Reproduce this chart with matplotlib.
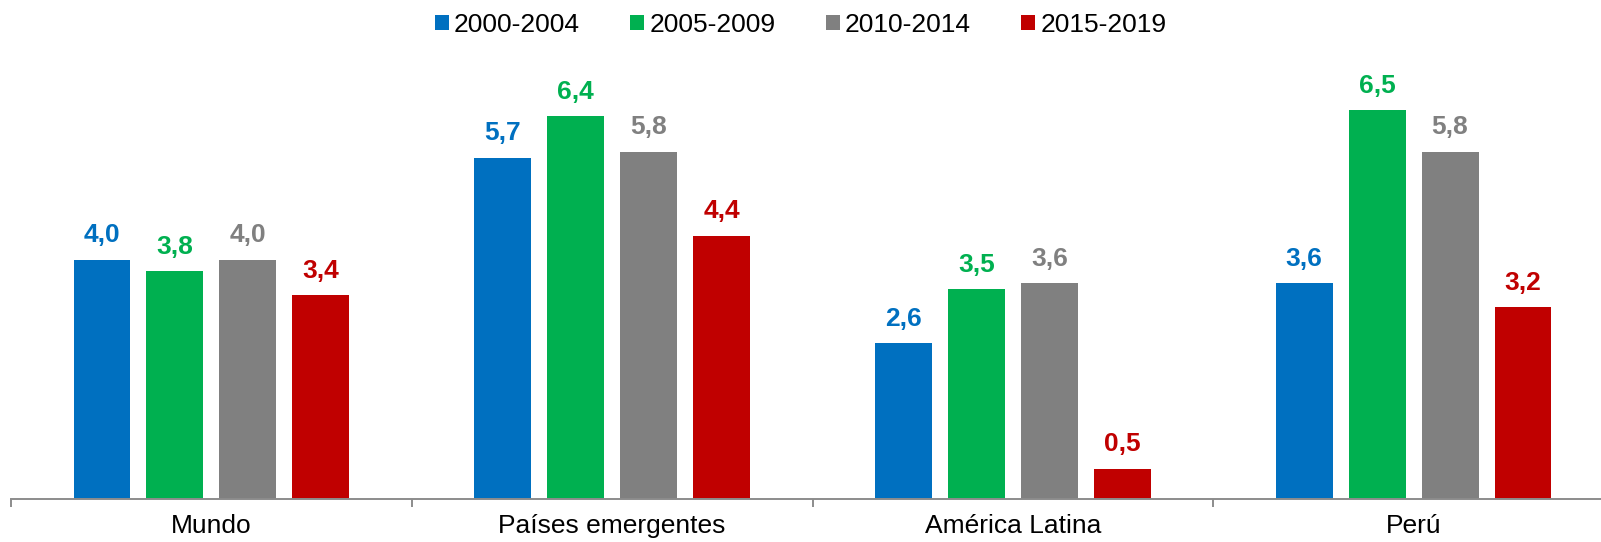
import matplotlib

matplotlib.use("Agg")
import matplotlib.pyplot as plt
import numpy as np
from matplotlib.patches import Patch

plt.rcParams["font.family"] = ["Liberation Sans", "DejaVu Sans"]

REGIONS = ["Mundo", "Países emergentes", "América Latina", "Perú"]
PERIODS = ["2000-2004", "2005-2009", "2010-2014", "2015-2019"]
COLORS = ["#0070C0", "#00B050", "#808080", "#C00000"]

# average growth per period, one list per period (order follows REGIONS)
g_2000_2004 = [4.0, 5.7, 2.6, 3.6]
g_2005_2009 = [3.8, 6.4, 3.5, 6.5]
g_2010_2014 = [4.0, 5.8, 3.6, 5.8]
g_2015_2019 = [3.4, 4.4, 0.5, 3.2]
SERIES = [g_2000_2004, g_2005_2009, g_2010_2014, g_2015_2019]

W, H = 1601, 542
fig = plt.figure(figsize=(W / 100, H / 100), dpi=100)
ax = fig.add_axes([11 / W, 43.3 / H, 1603 / W, 418.6 / H])

x = np.arange(len(REGIONS))
bw, step = 0.142, 0.182
for k, (vals, col) in enumerate(zip(SERIES, COLORS)):
    pos = x + (k - 1.5) * step
    ax.bar(pos, vals, bw, color=col, zorder=2)
    for px, v in zip(pos, vals):
        ax.annotate(f"{v:.1f}".replace(".", ","), (px, v), xytext=(0, 12.5),
                    textcoords="offset points", ha="center", va="baseline",
                    fontsize=19, fontweight="bold", color=col, annotation_clip=False)

ax.set_xlim(-0.5, len(REGIONS) - 0.5)
ax.set_ylim(0, 7)
for s in ("left", "right", "top"):
    ax.spines[s].set_visible(False)
ax.spines["bottom"].set_color("#8c8c8c")
ax.spines["bottom"].set_linewidth(1.4)
ax.set_yticks([])

# boundary ticks between groups, labels centred under each group
ax.set_xticks(np.arange(len(REGIONS) + 1) - 0.5)
ax.set_xticklabels([])
ax.tick_params(axis="x", which="major", length=5.8, width=1.4, color="#8c8c8c")
ax.set_xticks(x, minor=True)
ax.set_xticklabels(REGIONS, minor=True, fontsize=19)
ax.tick_params(axis="x", which="minor", length=0, pad=11)

handles = [Patch(facecolor=c, edgecolor="none") for c in COLORS]
fig.legend(handles, PERIODS, loc="center", bbox_to_anchor=(0.5, 1 - 24.5 / H), ncol=4,
           frameon=False, fontsize=19, handlelength=0.53, handleheight=0.5,
           handletextpad=0.2, columnspacing=1.9)

fig.savefig("out.png", dpi=100)
